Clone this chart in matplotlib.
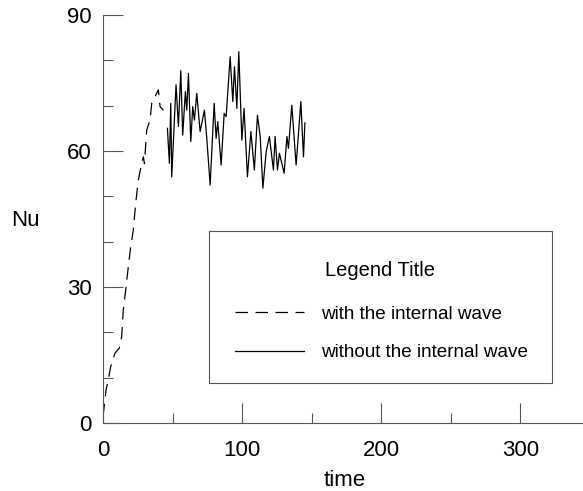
import numpy as np
import matplotlib
matplotlib.use("Agg")
import matplotlib.pyplot as plt
from matplotlib.patches import Rectangle
from matplotlib.ticker import MultipleLocator

plt.rcParams['font.family'] = ['Liberation Sans', 'DejaVu Sans']

# with the internal wave (dashed)
t_with = [0, 2.2, 3.8, 5.5, 8.6, 11.7, 13.4, 14.6, 16.3, 18.2, 19.9, 21.8, 23.5,
          25.4, 27.8, 29.0, 29.8, 31.4, 33.8, 35.0, 37.4, 39.8, 41.0, 43.4]
nu_with = [1.5, 7.3, 9.5, 12.4, 15.4, 16.5, 19.0, 25.0, 29.3, 34.5, 38.9, 42.6, 48.5,
           53.6, 57.3, 58.7, 57.2, 64.6, 66.8, 70.5, 72.0, 73.5, 69.8, 69.0]

# without the internal wave (solid)
t_without = [46.3, 47.7, 48.7, 49.4, 52.5, 54.2, 55.9, 57.3, 59.2, 60.2, 61.4, 63.1,
             64.5, 65.7, 67.4, 69.8, 72.9, 74.6, 77.0, 79.9, 81.3, 82.5, 84.9, 87.1,
             88.5, 91.4, 93.3, 94.5, 96.2, 97.6, 99.8, 101.4, 103.8, 106.3, 108.8,
             111.0, 113.0, 114.9, 117.3, 119.6, 122.5, 123.7, 125.4, 126.8, 130.2,
             132.2, 133.3, 135.7, 138.8, 142.2, 144.1, 145.1]
nu_without = [65.0, 57.3, 70.5, 54.3, 74.6, 65.4, 77.7, 63.5, 73.1, 69.0, 77.1, 62.1,
              69.8, 66.8, 72.7, 64.3, 69.0, 62.8, 52.5, 70.5, 62.8, 66.5, 56.9, 68.3,
              67.6, 80.8, 70.9, 78.6, 69.4, 81.9, 62.4, 69.4, 54.3, 64.3, 55.8,
              67.9, 63.2, 51.8, 59.9, 63.2, 55.8, 63.2, 55.8, 59.5, 55.1,
              63.2, 60.6, 70.1, 56.9, 70.9, 58.7, 66.2]

fig = plt.figure(figsize=(5.83, 4.91), dpi=100)
ax = fig.add_axes([103/583, 1-423/491, 1-103/583, (423-15)/491])

ax.plot(t_with, nu_with, color='black', lw=0.9, dashes=(10, 6),
        label='with the internal wave')
ax.plot(t_without, nu_without, color='black', lw=0.9,
        label='without the internal wave')

ax.set_xlim(0, 345)
ax.set_ylim(0, 90)
ax.xaxis.set_major_locator(MultipleLocator(100))
ax.xaxis.set_minor_locator(MultipleLocator(50))
ax.yaxis.set_major_locator(MultipleLocator(30))
ax.yaxis.set_minor_locator(MultipleLocator(10))
ax.tick_params(which='both', direction='in', width=0.8, color='#555555',
               labelsize=16, top=False, right=False)
ax.tick_params(which='major', length=14.5)
ax.tick_params(which='minor', length=7.2)
ax.tick_params(axis='x', which='major', pad=12)
ax.tick_params(axis='y', which='major', pad=8)
for side in ['top', 'right']:
    ax.spines[side].set_visible(False)
for side in ['left', 'bottom']:
    ax.spines[side].set_color('#555555')
    ax.spines[side].set_linewidth(0.8)

ax.set_ylabel('Nu', fontsize=16, rotation=0, ha='center', va='center')
ax.yaxis.set_label_coords(-0.1625, 0.4975)
ax.set_xlabel('time', fontsize=16, va='center')
ax.xaxis.set_label_coords(0.504, -0.14)

# legend frame
box = (0.2208, 0.098, 0.7146, 0.3726)
ax.add_patch(Rectangle(box[:2], box[2], box[3], transform=ax.transAxes,
                       fill=False, edgecolor='#555555', lw=0.8, zorder=5))
leg = ax.legend(title='Legend Title', loc='upper left',
                bbox_to_anchor=(box[0], box[1], box[2], box[3] - 0.0098),
                mode='expand', frameon=False, fontsize=13.6, title_fontsize=14.5,
                borderpad=1.37, labelspacing=1.13, handlelength=3.65,
                handletextpad=0.9, borderaxespad=0)
leg._legend_box.sep = 18.5

fig.savefig('out.png', dpi=100)
